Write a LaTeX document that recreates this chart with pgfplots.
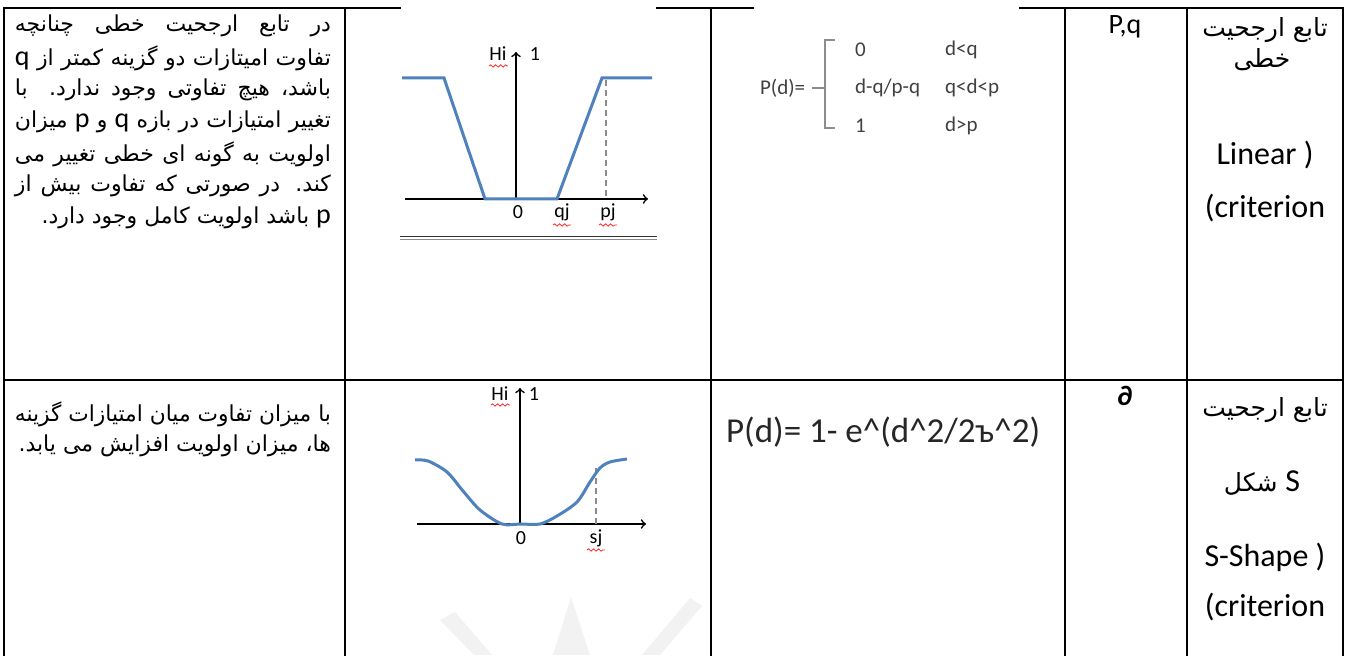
\documentclass[border=0pt]{standalone}
\usepackage{fontspec}
\usepackage{graphicx}
\usepackage{pgfplots}
\pgfplotsset{compat=1.18}
\usetikzlibrary{decorations.pathmorphing}
\setmainfont{Carlito}
\newfontfamily\fa[Script=Arabic]{DejaVu Sans}
\TeXXeTstate=1
\definecolor{lineblue}{HTML}{4F81BD}
% one px of the reference = 0.5pt
\newdimen\jw \jw=158pt
\newcommand\jl[1]{\sbox0{\fa\beginR #1\endR}%
  \ifdim\wd0>\jw\resizebox{\jw}{\height}{\usebox0}\else\makebox[\jw][s]{\fa\beginR #1\endR}\fi}
\newcommand\rl[1]{\fa\beginR #1\endR}
\newcommand\la[1]{{\normalfont\fontsize{14}{16}\selectfont #1}}

\begin{document}
\begin{tikzpicture}
\begin{axis}[
  width=678pt, height=327.5pt, scale only axis,
  xmin=0, xmax=1356, ymin=0, ymax=655, y dir=reverse,
  hide axis, clip=false,
  tbl/.style={black, line width=1pt, line cap=rect, forget plot},
  sq/.style={red!85, line width=0.4pt, decorate,
    decoration={snake, amplitude=0.6pt, segment length=2.5pt}, forget plot},
  every node/.style={inner sep=0pt},
]
\path (rel axis cs:0,0) rectangle (rel axis cs:1,1);

% faint watermark at the bottom
\addplot[fill=black!5, draw=none, forget plot] coordinates {(553,655) (571,597) (590,655)} -- cycle;
\addplot[fill=black!5, draw=none, forget plot] coordinates {(440,620) (455,612) (492,655) (474,655)} -- cycle;
\addplot[fill=black!5, draw=none, forget plot] coordinates {(690,598) (702,606) (660,655) (642,655)} -- cycle;

% table rules
\addplot[tbl] coordinates {(4,8) (400,8)};
\addplot[tbl] coordinates {(657,8) (753,8)};
\addplot[tbl] coordinates {(1020,8) (1343,8)};
\addplot[tbl] coordinates {(4,380) (1343,380)};
\addplot[tbl] coordinates {(4,8) (4,655)};
\addplot[tbl] coordinates {(345,8) (345,655)};
\addplot[tbl] coordinates {(711,8) (711,655)};
\addplot[tbl] coordinates {(1065,8) (1065,655)};
\addplot[tbl] coordinates {(1187,8) (1187,655)};
\addplot[tbl] coordinates {(1343,8) (1343,655)};

% column 1: description
\begin{scope}[every node/.append style={anchor=east, font=\fontsize{11}{13}\selectfont}]
\node at (axis cs:338,26)  {\jl{در تابع ارجحیت خطی چنانچه}};
\node at (axis cs:338,58)  {\jl{تفاوت امیتازات دو گزینه کمتر از \la{q}}};
\node at (axis cs:338,90)  {\jl{باشد، هیچ تفاوتی وجود ندارد. با}};
\node at (axis cs:338,122) {\jl{تغییر امتیازات در بازه \la{q} و \la{p} میزان}};
\node at (axis cs:338,154) {\jl{اولویت به گونه ای خطی تغییر می}};
\node at (axis cs:338,186) {\jl{کند. در صورتی که تفاوت بیش از}};
\node at (axis cs:338,218) {\rl{\la{p} باشد اولویت کامل وجود دارد.}};
\node at (axis cs:338,414) {\jl{با میزان تفاوت میان امتیازات گزینه}};
\node at (axis cs:338,446) {\rl{ها، میزان اولویت افزایش می یابد.}};
\end{scope}

% column 2, row 1: linear criterion sketch
\addplot[black!80, line width=0.5pt, forget plot] coordinates {(400,236.5) (657,236.5)};
\addplot[black!45, line width=0.5pt, forget plot] coordinates {(400,240) (657,240)};
\addplot[black, line width=0.8pt, ->, forget plot] coordinates {(405,199) (648,199)};
\addplot[black, line width=0.8pt, ->, forget plot] coordinates {(516,199) (516,52)};
\addplot[black!45, line width=0.6pt, densely dashed, forget plot] coordinates {(606,80) (606,199)};
\addplot[lineblue, line width=1.5pt, forget plot] coordinates {
  (402,78) (444,78) (485,199) (557,199) (602,78) (652,78)};

% column 2, row 2: S-shape sketch
\addplot[black, line width=0.8pt, ->, forget plot] coordinates {(417,524) (646,524)};
\addplot[black, line width=0.8pt, ->, forget plot] coordinates {(520,524) (520,388)};
\addplot[black!45, line width=0.6pt, densely dashed, forget plot] coordinates {(596,468) (596,524)};
\addplot[lineblue, line width=1.5pt, smooth, forget plot] coordinates {
  (415,460) (428,461) (447,472) (463,491) (480,510) (502,524) (521,524) (540,524)
  (557,516) (577,502) (590,482) (600,468) (610,462) (627,459)};

% spelling squiggles
\addplot[sq] coordinates {(489,66) (508,66)};
\addplot[sq] coordinates {(553,225) (571,225)};
\addplot[sq] coordinates {(599,225) (617,225)};
\addplot[sq] coordinates {(491,405) (510,405)};
\addplot[sq] coordinates {(587,550) (605,550)};

\begin{scope}[every node/.append style={font=\fontsize{10}{12}\selectfont}]
\node at (axis cs:498,54) {Hi};
\node at (axis cs:535,54) {1};
\node at (axis cs:518,212) {0};
\node at (axis cs:562,212) {qj};
\node at (axis cs:608,212) {pj};
\node at (axis cs:500,394) {Hi};
\node at (axis cs:534,394) {1};
\node at (axis cs:521,538) {0};
\node at (axis cs:596,538) {sj};
\end{scope}

% column 3: formulas
\addplot[black!45, line width=0.6pt, forget plot] coordinates {(835,40) (825,40) (825,128) (835,128)};
\addplot[black!45, line width=0.6pt, forget plot] coordinates {(812,88) (825,88)};
\begin{scope}[every node/.append style={anchor=west, text=black!75, font=\fontsize{10.5}{12}\selectfont}]
\node at (axis cs:753,88) {P(d)=};
\node at (axis cs:848,50) {0};
\node at (axis cs:938,50) {d<q};
\node at (axis cs:848,88) {d-q/p-q};
\node at (axis cs:938,88) {q<d<p};
\node at (axis cs:848,126) {1};
\node at (axis cs:938,126) {d>p};
\end{scope}
\node[anchor=west, text=black!85, font=\fontsize{17.5}{20}\selectfont] at (axis cs:719,432)
  {P(d)= 1- e\textasciicircum(d\textasciicircum2/2ъ\textasciicircum2)};

% column 4: parameters
\node[font=\fontsize{14}{16}\selectfont] at (axis cs:1125,27) {P,q};
\node[font=\fontsize{14}{16}\selectfont\bfseries] at (axis cs:1125,396) {∂};

% column 5: names
\begin{scope}[every node/.append style={font=\fontsize{12.5}{14}\selectfont}]
\node at (axis cs:1265,30)  {\rl{تابع ارجحیت}};
\node at (axis cs:1262,60)  {\rl{خطی}};
\node at (axis cs:1265,410) {\rl{تابع ارجحیت}};
\node at (axis cs:1262,483) {\rl{{\normalfont\fontsize{16}{18}\selectfont S} شکل}};
\end{scope}
\begin{scope}[every node/.append style={font=\fontsize{16}{18}\selectfont}]
\node at (axis cs:1265,155) {Linear )};
\node at (axis cs:1265,208) {(criterion};
\node at (axis cs:1265,557) {S-Shape )};
\node at (axis cs:1265,607) {(criterion};
\end{scope}
\end{axis}
\end{tikzpicture}
\end{document}
